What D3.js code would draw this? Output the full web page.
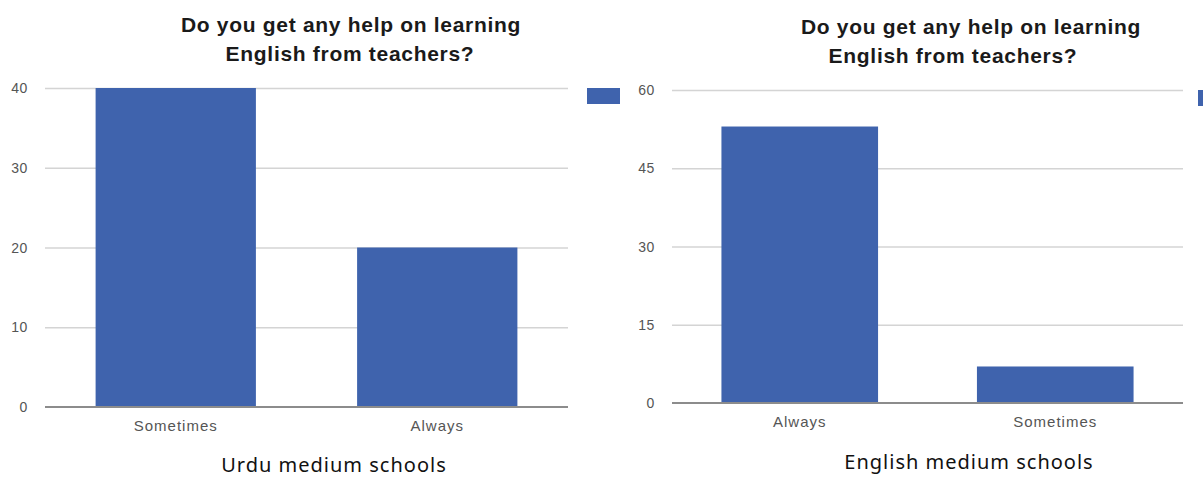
<!DOCTYPE html>
<html lang="en">
<head>
<meta charset="utf-8">
<title>Help on learning English from teachers</title>
<script src="https://cdn.jsdelivr.net/npm/d3@7"></script>
<style>
  body { margin: 0; background: #fff; }
</style>
</head>
<body>
<script>
// data
var titleLines = ["Do you get any help on learning", "English from teachers?"];

var urduCats = ["Sometimes", "Always"];
var urduValues = [40, 20];
var urduTicks = [0, 10, 20, 30, 40];
var urduCaption = "Urdu medium schools";

var englishCats = ["Always", "Sometimes"];
var englishValues = [53, 7];
var englishTicks = [0, 15, 30, 45, 60];
var englishCaption = "English medium schools";

var W = 1203, H = 477;
var barColor = "#3f63ad";

var svg = d3.select("body").append("svg")
  .attr("width", W)
  .attr("height", H);

function drawChart(opt) {
  var g = svg.append("g");

  var x = d3.scaleBand()
    .domain(opt.cats)
    .range([opt.left, opt.right])
    .paddingInner(0.387)
    .paddingOuter(0.1935);

  var y = d3.scaleLinear()
    .domain([0, d3.max(opt.ticks)])
    .range([opt.bottom, opt.top]);

  // gridlines
  g.selectAll("line.grid")
    .data(opt.ticks.filter(function(t) { return t > 0; }))
    .enter().append("line")
    .attr("x1", opt.left).attr("x2", opt.right)
    .attr("y1", function(d) { return y(d) + 0.5; })
    .attr("y2", function(d) { return y(d) + 0.5; })
    .attr("stroke", "#d4d4d4")
    .attr("stroke-width", 1.5);

  // y labels
  g.selectAll("text.ylab")
    .data(opt.ticks)
    .enter().append("text")
    .attr("x", opt.left - 17)
    .attr("y", function(d) { return y(d) + 5; })
    .attr("text-anchor", "end")
    .attr("font-family", "Liberation Sans, Arial, sans-serif")
    .attr("font-size", 14)
    .attr("letter-spacing", 0.6)
    .attr("fill", "#555")
    .text(function(d) { return d; });

  // bars
  g.selectAll("rect.bar")
    .data(opt.values)
    .enter().append("rect")
    .attr("x", function(d, i) { return x(opt.cats[i]); })
    .attr("width", x.bandwidth())
    .attr("y", function(d) { return y(d); })
    .attr("height", function(d) { return y(0) - y(d); })
    .attr("fill", barColor);

  // baseline
  g.append("line")
    .attr("x1", opt.left).attr("x2", opt.right)
    .attr("y1", y(0)).attr("y2", y(0))
    .attr("stroke", "#8c8c8c")
    .attr("stroke-width", 2);

  // x labels
  g.selectAll("text.xlab")
    .data(opt.cats)
    .enter().append("text")
    .attr("x", function(d) { return x(d) + x.bandwidth() / 2; })
    .attr("y", y(0) + 24)
    .attr("text-anchor", "middle")
    .attr("font-family", "Liberation Sans, Arial, sans-serif")
    .attr("font-size", 15)
    .attr("letter-spacing", 1)
    .attr("fill", "#555")
    .text(function(d) { return d; });

  // title
  g.selectAll("text.title")
    .data(titleLines)
    .enter().append("text")
    .attr("x", function(d, i) { return opt.titleX[i]; })
    .attr("y", function(d, i) { return opt.titleY + i * 29; })
    .attr("text-anchor", "middle")
    .attr("font-family", "Liberation Sans, Arial, sans-serif")
    .attr("font-weight", "bold")
    .attr("font-size", 21)
    .attr("letter-spacing", 0.7)
    .attr("fill", "#1a1a1a")
    .text(function(d) { return d; });

  // legend swatch (label is cut off in the original)
  g.append("rect")
    .attr("x", opt.legendX).attr("y", opt.legendY)
    .attr("width", 33).attr("height", 16)
    .attr("fill", barColor);

  // caption
  g.append("text")
    .attr("x", opt.captionX)
    .attr("y", opt.captionY)
    .attr("text-anchor", "middle")
    .attr("font-family", "Noto Sans, DejaVu Sans, sans-serif")
    .attr("font-size", 20)
    .attr("letter-spacing", 1)
    .attr("fill", "#111")
    .text(opt.caption);
}

drawChart({
  cats: urduCats, values: urduValues, ticks: urduTicks, caption: urduCaption,
  left: 45, right: 568, top: 88, bottom: 407,
  titleX: [351, 350], titleY: 32,
  legendX: 587, legendY: 88,
  captionX: 334, captionY: 472
});

drawChart({
  cats: englishCats, values: englishValues, ticks: englishTicks, caption: englishCaption,
  left: 672, right: 1183, top: 90, bottom: 403,
  titleX: [971, 953], titleY: 34,
  legendX: 1198, legendY: 90,
  captionX: 969, captionY: 469
});
</script>
</body>
</html>
